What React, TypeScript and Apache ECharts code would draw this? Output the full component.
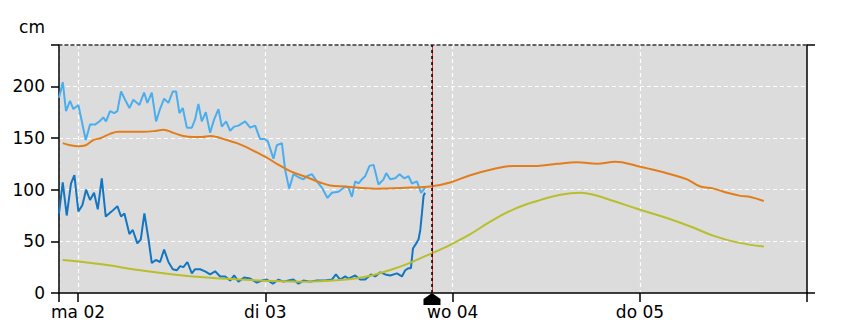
import React, { useEffect, useRef } from "react";
import * as echarts from "echarts";

// x values are hours since "ma 02" 00:00
const dayHours = [0, 24, 48, 72];
const dayLabels = ["ma 02", "di 03", "wo 04", "do 05"];
const yLabelValues = [0, 50, 100, 150, 200];
const yMax = 240;
const xMin = -2.44;
const xMax = 93.4;
const nowHour = 45.35;

const measuredUpper: [number, number][] = [
  [-2.44, 189], [-1.96, 204], [-1.54, 176], [-1.03, 186], [-0.6, 178], [0.04, 182],
  [0.99, 148], [1.54, 163], [2.18, 163], [2.73, 166], [3.24, 170], [3.59, 166],
  [4.1, 176], [4.62, 174], [5.04, 176], [5.51, 195], [6.03, 187], [6.58, 179],
  [7.09, 187], [7.86, 182], [8.46, 194], [8.88, 184], [9.45, 194], [10.0, 166],
  [10.5, 178], [11.03, 188], [11.58, 184], [12.14, 195], [12.56, 195], [12.99, 174],
  [13.42, 179], [13.94, 160], [14.58, 160], [15.0, 168], [15.42, 183], [15.86, 166],
  [16.37, 175], [16.92, 155], [17.44, 168], [17.99, 178], [18.42, 161], [18.97, 166],
  [19.49, 157], [20.0, 161], [20.55, 162], [21.41, 166], [22.05, 160], [22.69, 162],
  [23.33, 149], [23.9, 149], [24.3, 147], [25.04, 130], [25.47, 143], [26.12, 145],
  [26.54, 119], [27.05, 101], [27.6, 115], [28.24, 112], [28.88, 110], [29.32, 113],
  [29.96, 115], [30.6, 108], [31.24, 102], [31.96, 92], [32.53, 97], [33.37, 98],
  [34.23, 103], [34.65, 102], [35.09, 93], [35.51, 108], [35.94, 106], [36.37, 110],
  [36.79, 113], [37.35, 123], [37.86, 124], [38.5, 105], [39.14, 110], [39.49, 116],
  [40.0, 110], [40.64, 111], [41.19, 115], [41.79, 111], [42.35, 113], [42.78, 106],
  [43.42, 108], [43.94, 97], [44.49, 102],
];

const measuredLower: [number, number][] = [
  [-2.44, 77], [-1.96, 107], [-1.45, 75], [-0.9, 106], [-0.47, 114], [0.04, 79],
  [0.55, 85], [1.03, 100], [1.54, 90], [2.05, 97], [2.53, 81], [3.04, 111],
  [3.55, 74], [4.32, 79], [5.04, 84], [5.51, 74], [5.94, 77], [6.58, 57],
  [7.01, 61], [7.6, 48], [8.04, 52], [8.5, 77], [9.01, 53], [9.45, 29],
  [9.96, 32], [10.51, 30], [11.03, 42], [11.58, 30], [12.14, 23], [12.65, 22],
  [13.08, 26], [13.5, 25], [14.01, 30], [14.58, 19], [15.0, 23], [15.64, 23],
  [16.28, 21], [16.92, 18], [17.56, 21], [18.21, 16], [18.85, 16], [19.49, 12],
  [20.0, 17], [20.55, 11], [21.28, 15], [22.05, 14], [22.91, 10], [23.55, 12],
  [24.19, 13], [24.96, 9], [25.68, 13], [26.32, 11], [26.96, 12], [27.6, 13],
  [28.24, 9], [28.88, 12], [29.74, 11], [30.6, 12], [31.67, 12], [32.53, 13],
  [33.04, 18], [33.59, 13], [34.23, 16], [34.65, 14], [35.51, 17], [36.15, 13],
  [36.79, 13], [37.53, 18], [38.08, 16], [38.72, 20], [39.36, 18], [40.0, 17],
  [40.86, 19], [41.5, 16], [41.92, 22], [42.35, 24], [42.65, 24], [42.91, 43],
  [43.33, 48], [43.63, 52], [43.85, 61], [44.06, 77], [44.27, 94], [44.45, 97],
];

const forecastUpper: [number, number][] = [
  [-1.96, 145], [-1.03, 143], [0.04, 142], [0.99, 143], [1.96, 148], [2.95, 150],
  [4.1, 154], [5.17, 156], [6.67, 156], [8.37, 156], [10.09, 157], [10.94, 158],
  [12.22, 155], [13.5, 152], [14.78, 151], [15.86, 151], [16.92, 152], [17.78, 151],
  [19.06, 148], [20.35, 145], [21.63, 141], [22.91, 136], [24.19, 131], [25.47, 125],
  [27.18, 118], [29.32, 112], [31.03, 107], [32.31, 104], [34.23, 103], [38.08, 101],
  [42.56, 102], [45.13, 103], [47.69, 107], [50.26, 114], [53.24, 120], [55.81, 123],
  [58.81, 123], [61.37, 125], [63.94, 126.5], [66.5, 125], [68.85, 127], [71.63, 123],
  [73.33, 120], [75.9, 115], [78.04, 110], [79.74, 103], [81.45, 101], [83.17, 97],
  [84.87, 94], [86.15, 93], [87.86, 89],
];

const forecastLower: [number, number][] = [
  [-1.96, 32], [0.04, 30.4], [3.68, 27], [7.95, 22], [12.22, 18], [16.5, 15],
  [20.77, 13], [25.04, 11.5], [29.32, 11], [33.59, 12.6], [35.73, 14.3], [37.86, 17.5],
  [40.0, 22.3], [42.14, 28], [44.27, 35], [46.41, 42], [47.69, 46.6], [50.26, 57],
  [52.82, 69], [55.81, 81], [58.81, 89], [61.8, 95], [64.36, 97], [66.06, 95],
  [68.63, 89], [71.63, 81.5], [75.04, 73.5], [78.46, 64.4], [81.45, 55.3], [84.45, 49],
  [87.86, 45],
];

const FONT = "'DejaVu Sans', 'Noto Sans', sans-serif";
const FONT_SIZE = 17;
const gridLine = { color: "#ffffff", width: 1.2, type: [4, 3] as number[] };

export default function App() {
  const ref = useRef<HTMLDivElement>(null);
  useEffect(() => {
    document.body.style.margin = "0";
    const chart = echarts.init(ref.current!, null, { renderer: "svg" });
    chart.setOption({
      animation: false,
      textStyle: { fontFamily: FONT },
      grid: {
        left: 59, right: 49, top: 45, bottom: 43,
        show: true, backgroundColor: "#dcdcdc", borderWidth: 0,
        containLabel: false, outerBoundsMode: "none",
      },
      xAxis: [
        {
          type: "value", min: xMin, max: xMax, position: "bottom",
          axisLine: { show: true, onZero: false, lineStyle: { color: "#000", width: 1.5 } },
          axisTick: { show: true, length: 9, customValues: [xMin, ...dayHours, xMax], lineStyle: { color: "#000", width: 1.5 } },
          axisLabel: {
            show: true, customValues: dayHours, margin: 10, color: "#000", fontSize: FONT_SIZE, fontFamily: FONT,
            formatter: (v: number) => dayLabels[Math.round(v / 24)] ?? "",
          },
          splitLine: { show: true, lineStyle: gridLine },
        },
        {
          type: "value", min: xMin, max: xMax, position: "top",
          axisLine: { show: true, onZero: false, lineStyle: { color: "#333", width: 1.5, type: [3, 3] } },
          axisTick: { show: false }, axisLabel: { show: false }, splitLine: { show: false },
        },
      ],
      yAxis: [
        {
          type: "value", min: 0, max: yMax, position: "left",
          name: "cm", nameLocation: "end", nameGap: 18,
          nameTextStyle: { color: "#000", fontSize: FONT_SIZE, fontFamily: FONT, align: "right", verticalAlign: "middle", padding: [0, 14, 0, 0] },
          axisLine: { show: true, onZero: false, lineStyle: { color: "#000", width: 1.5 } },
          axisTick: { show: true, length: 8, customValues: [...yLabelValues, yMax], lineStyle: { color: "#000", width: 1.5 } },
          axisLabel: { show: true, customValues: yLabelValues, margin: 14, color: "#000", fontSize: FONT_SIZE, fontFamily: FONT },
          splitLine: { show: true, lineStyle: gridLine },
        },
        {
          type: "value", min: 0, max: yMax, position: "right",
          axisLine: { show: true, onZero: false, lineStyle: { color: "#000", width: 1.5 } },
          axisTick: { show: true, length: 8, customValues: [0, yMax], lineStyle: { color: "#000", width: 1.5 } },
          axisLabel: { show: false }, splitLine: { show: false },
        },
      ],
      series: [
        {
          type: "line", data: forecastUpper, symbol: "none", smooth: 0.4,
          lineStyle: { color: "#e27d1c", width: 2 }, z: 3,
        },
        {
          type: "line", data: measuredUpper, symbol: "none",
          lineStyle: { color: "#4aaeee", width: 2 }, z: 2,
        },
        {
          type: "line", data: measuredLower, symbol: "none",
          lineStyle: { color: "#1276c2", width: 2 }, z: 2,
        },
        {
          type: "line", data: forecastLower, symbol: "none", smooth: 0.4,
          lineStyle: { color: "#b8be2c", width: 2 }, z: 3,
          markLine: {
            silent: true, symbol: "none", label: { show: false },
            data: [
              { xAxis: nowHour, lineStyle: { color: "#e02828", width: 1, type: "solid" } },
              { xAxis: nowHour, lineStyle: { color: "#000", width: 1.5, type: [3, 3] } },
            ],
          },
          markPoint: {
            silent: true, label: { show: false },
            data: [
              {
                coord: [nowHour, 0],
                symbol: "path://M8.5 0 L17 6 L17 12 L0 12 L0 6 Z",
                symbolSize: [17, 12], symbolOffset: [0, 6],
                itemStyle: { color: "#000" },
              },
            ],
          },
        },
      ],
    });
    return () => chart.dispose();
  }, []);
  return <div ref={ref} style={{ width: 856, height: 336 }} />;
}
